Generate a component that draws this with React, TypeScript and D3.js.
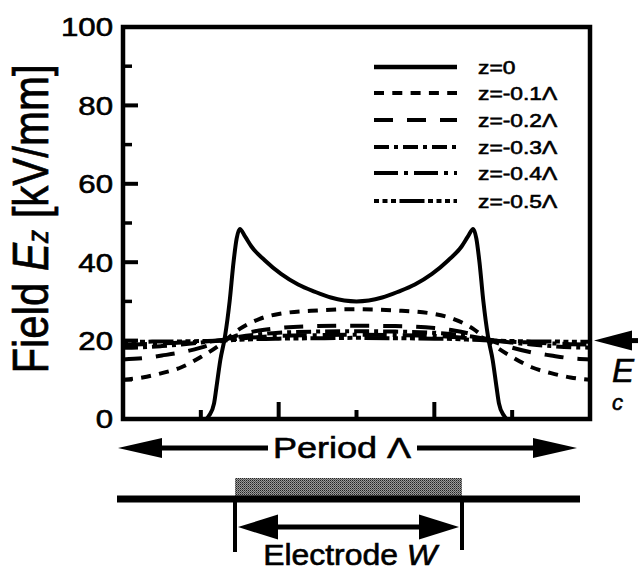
import React from "react";
import * as d3 from "d3";

const WIDTH = 638;
const HEIGHT = 571;

// x positions in units of 1/6 period (plot spans one period: -3 .. 3)
const xSolid = [-3, -2.5, -2.0, -1.94, -1.89, -1.83, -1.8, -1.75, -1.69, -1.63, -1.58, -1.54, -1.5, -1.43, -1.35, -1.18, -0.97, -0.75, -0.54, -0.33, 0, 0.33, 0.54, 0.75, 0.97, 1.18, 1.35, 1.43, 1.5, 1.54, 1.58, 1.63, 1.69, 1.75, 1.8, 1.83, 1.89, 1.94, 2.0, 2.5, 3];
const fieldZ0 = [0, 0, 0, 0, 1, 4, 8, 15, 21, 30, 40, 46, 48.5, 46.5, 44, 40.5, 37, 34.3, 32.5, 31, 30, 31, 32.5, 34.3, 37, 40.5, 44, 46.5, 48.5, 46, 40, 30, 21, 15, 8, 4, 1, 0, 0, 0, 0];

const xDepth = [-3, -2.75, -2.5, -2.25, -2, -1.75, -1.5, -1.25, -1, -0.5, 0, 0.5, 1, 1.25, 1.5, 1.75, 2, 2.25, 2.5, 2.75, 3];
const fieldZm01 = [10, 10.6, 11.7, 13.2, 15.8, 19, 23, 25.5, 26.8, 27.7, 28, 27.7, 26.8, 25.5, 23, 19, 15.8, 13.2, 11.7, 10.6, 10];
const fieldZm02 = [15.2, 15.5, 16.2, 17, 18.2, 19.8, 21.5, 22.6, 23.2, 23.7, 23.8, 23.7, 23.2, 22.6, 21.5, 19.8, 18.2, 17, 16.2, 15.5, 15.2];
const fieldZm03 = [18.2, 18.3, 18.6, 19, 19.5, 20.1, 21, 21.6, 22, 22.3, 22.4, 22.3, 22, 21.6, 21, 20.1, 19.5, 19, 18.6, 18.3, 18.2];
const fieldZm04 = [19, 19.1, 19.3, 19.5, 19.7, 20, 20.5, 20.9, 21.2, 21.4, 21.5, 21.4, 21.2, 20.9, 20.5, 20, 19.7, 19.5, 19.3, 19.1, 19];
const fieldZm05 = [19.7, 19.7, 19.8, 19.8, 19.9, 20, 20.2, 20.4, 20.5, 20.6, 20.7, 20.6, 20.5, 20.4, 20.2, 20, 19.9, 19.8, 19.8, 19.7, 19.7];

const legendLabels = ["z=0", "z=-0.1Λ", "z=-0.2Λ", "z=-0.3Λ", "z=-0.4Λ", "z=-0.5Λ"];
const seriesDash = ["none", "10,8.3", "19,14", "15,5,4,5", "24,6,4,6", "5,3.5,5,3.5,5,3.5,25,3.5"];
const yTickValues = [0, 10, 20, 30, 40, 50, 60, 70, 80, 90, 100];
const xTickValues = [-2, -1, 0, 1, 2];
const coerciveField = 20;

const FONT = "'Liberation Sans', Arial, Helvetica, sans-serif";
const TEXT_STROKE = { stroke: "#000", strokeWidth: 0.6 };

export default function App() {
  const x = d3.scaleLinear().domain([-3, 3]).range([123, 590]);
  const y = d3.scaleLinear().domain([0, 100]).range([419, 27]);
  const line = d3
    .line<[number, number]>()
    .x((d) => x(d[0]))
    .y((d) => y(d[1]))
    .curve(d3.curveMonotoneX);

  const series: { xs: number[]; vs: number[]; dash: string; w: number }[] = [
    { xs: xSolid, vs: fieldZ0, dash: seriesDash[0], w: 4 },
    { xs: xDepth, vs: fieldZm01, dash: seriesDash[1], w: 4 },
    { xs: xDepth, vs: fieldZm02, dash: seriesDash[2], w: 4 },
    { xs: xDepth, vs: fieldZm03, dash: seriesDash[3], w: 4 },
    { xs: xDepth, vs: fieldZm04, dash: seriesDash[4], w: 4 },
    { xs: xDepth, vs: fieldZm05, dash: seriesDash[5], w: 4 },
  ];

  const [x0, x1] = x.range();
  const [yb, yt] = y.range();
  const legendRows = [67, 93, 120, 147, 173, 201];

  return (
    <svg
      width={WIDTH}
      height={HEIGHT}
      viewBox={`0 0 ${WIDTH} ${HEIGHT}`}
      style={{ position: "absolute", left: 0, top: 0, background: "#fff" }}
    >
      <defs>
        <clipPath id="plotClip">
          <rect x={x0} y={yt} width={x1 - x0} height={yb - yt} />
        </clipPath>
        <pattern id="stipple" width="2" height="2" patternUnits="userSpaceOnUse">
          <rect width="2" height="2" fill="#9a9a9a" />
          <rect width="1" height="1" fill="#222" />
          <rect x="1" y="1" width="1" height="1" fill="#555" />
        </pattern>
      </defs>

      {/* curves */}
      <g clipPath="url(#plotClip)">
        {series
          .slice()
          .reverse()
          .map((s, i) => (
            <path
              key={i}
              d={line(s.xs.map((xv, k) => [xv, s.vs[k]] as [number, number])) || ""}
              fill="none"
              stroke="#000"
              strokeWidth={s.w}
              strokeDasharray={s.dash}
              strokeLinejoin="round"
            />
          ))}
      </g>

      {/* frame */}
      <rect x={x0} y={yt} width={x1 - x0} height={yb - yt} fill="none" stroke="#000" strokeWidth={4.5} />

      {/* y ticks */}
      {yTickValues.map((v) => {
        const major = v % 20 === 0;
        return (
          <g key={v}>
            {v > 0 && v < 100 && (
              <line x1={x0} x2={x0 + (major ? 15 : 9)} y1={y(v)} y2={y(v)} stroke="#000" strokeWidth={major ? 4 : 3.5} />
            )}
            {major && (
              <text
                transform={`translate(113,${y(v) + 9.3}) scale(1.2,1)`}
                textAnchor="end"
                fontFamily={FONT}
                fontSize={26}
                {...TEXT_STROKE}
              >
                {v}
              </text>
            )}
          </g>
        );
      })}

      {/* x ticks */}
      {xTickValues.map((v) => {
        const tall = Math.abs(v) === 1;
        return (
          <line key={v} x1={x(v)} x2={x(v)} y1={yb} y2={yb - (tall ? 17 : 9)} stroke="#000" strokeWidth={4} />
        );
      })}

      {/* y axis title */}
      <text
        transform={`translate(48,219) rotate(-90) scale(1,1.17)`}
        textAnchor="middle"
        fontFamily={FONT}
        fontSize={42}
        {...TEXT_STROKE}
      >
        Field <tspan fontStyle="italic">E</tspan>
        <tspan fontStyle="italic" fontSize={26}>z</tspan> [kV/mm]
      </text>

      {/* legend */}
      {legendLabels.map((lab, i) => (
        <g key={lab}>
          <line
            x1={374}
            x2={457}
            y1={legendRows[i]}
            y2={legendRows[i]}
            stroke="#000"
            strokeWidth={i === 0 ? 4.5 : 4}
            strokeDasharray={seriesDash[i]}
          />
          <text
            transform={`translate(478,${legendRows[i] + 7}) scale(1.2,1)`}
            fontFamily={FONT}
            fontSize={19}
            {...TEXT_STROKE}
          >
            {lab}
          </text>
        </g>
      ))}

      {/* Ec arrow */}
      <g>
        <line x1={628} x2={WIDTH} y1={y(coerciveField)} y2={y(coerciveField)} stroke="#000" strokeWidth={5} />
        <path
          d={`M${x1 + 4},${y(coerciveField)} L${x1 + 42},${y(coerciveField) - 10} L${x1 + 42},${y(coerciveField) + 10} Z`}
          fill="#000"
        />
        <text x={612} y={382} fontFamily={FONT} fontSize={33} fontStyle="italic" {...TEXT_STROKE}>E</text>
        <text x={612} y={410} fontFamily={FONT} fontSize={22} fontStyle="italic" {...TEXT_STROKE}>c</text>
      </g>

      {/* Period arrow */}
      <g>
        <line x1={150} x2={268} y1={448} y2={448} stroke="#000" strokeWidth={5} />
        <line x1={417} x2={545} y1={448} y2={448} stroke="#000" strokeWidth={5} />
        <path d="M118,448 L162,438 L162,458 Z" fill="#000" />
        <path d="M577,448 L533,438 L533,458 Z" fill="#000" />
        <text
          transform="translate(342,458) scale(1.2,1)"
          textAnchor="middle"
          fontFamily={FONT}
          fontSize={30}
          {...TEXT_STROKE}
        >
          Period Λ
        </text>
      </g>

      {/* substrate / electrode */}
      <g>
        <rect x={235} y={478} width={227} height={18} fill="url(#stipple)" />
        <line x1={117} x2={580} y1={499} y2={499} stroke="#000" strokeWidth={7} />
        <line x1={235} x2={235} y1={496} y2={552} stroke="#000" strokeWidth={4} />
        <line x1={462} x2={462} y1={496} y2={550} stroke="#000" strokeWidth={4} />
        <line x1={265} x2={430} y1={527} y2={527} stroke="#000" strokeWidth={5} />
        <path d="M238,527 L278,514.5 L278,539.5 Z" fill="#000" />
        <path d="M459,527 L419,514.5 L419,539.5 Z" fill="#000" />
        <text
          transform="translate(350,565) scale(1.1,1)"
          textAnchor="middle"
          fontFamily={FONT}
          fontSize={29}
          {...TEXT_STROKE}
        >
          Electrode <tspan fontStyle="italic">W</tspan>
        </text>
      </g>
    </svg>
  );
}
